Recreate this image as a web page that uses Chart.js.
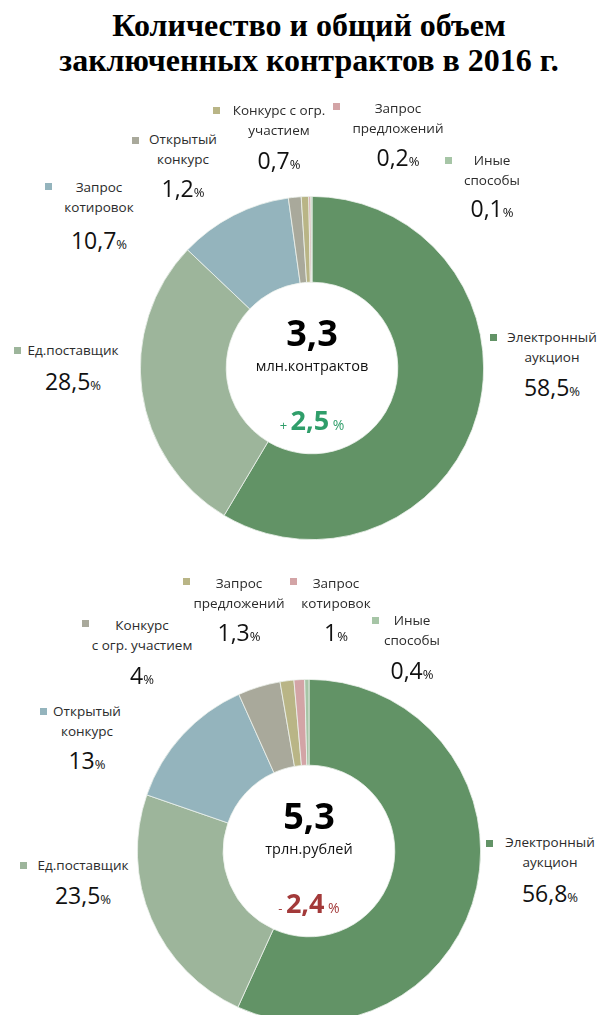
<!DOCTYPE html>
<html>
<head>
<meta charset="utf-8">
<script src="https://cdn.jsdelivr.net/npm/chart.js@4.4.1/dist/chart.umd.min.js"></script>
<style>
  html, body { margin:0; padding:0; background:#fff; }
  body { width:599px; height:1015px; overflow:hidden; position:relative; font-family:"Open Sans", sans-serif; color:#262626; }
  #title { position:absolute; left:0; top:8px; width:618px; text-align:center; font:bold 32px/35px "Liberation Serif", serif; color:#000; }
  .box { position:absolute; width:344px; height:344px; }
  .t { position:absolute; white-space:nowrap; transform:translate(-50%,-50%); line-height:1; }
  .sq { position:absolute; width:7px; height:7px; }
  .lbl { font-size:13.5px; color:#2b2b2b; }
  .num { font-size:23px; color:#111; }
  .num small { font-size:13px; }
</style>
</head>
<body>
<div id="title">Количество и общий объем<br>заключенных контрактов в 2016 г.</div>
<div class="box" id="b1" style="left:140px;top:196px"><canvas id="c1"></canvas></div>
<div class="box" id="b2" style="left:137px;top:679px"><canvas id="c2"></canvas></div>
<script>
// ---- data ----
const cats1   = ['Электронный\nаукцион', 'Ед.поставщик', 'Запрос\nкотировок', 'Открытый\nконкурс', 'Конкурс с огр.\nучастием', 'Запрос\nпредложений', 'Иные\nспособы'];
const vals1   = [58.5, 28.5, 10.7, 1.2, 0.7, 0.2, 0.1];
const total1  = '3,3';
const unit1   = 'млн.контрактов';
const delta1  = ['+', '2,5'];

const cats2   = ['Электронный\nаукцион', 'Ед.поставщик', 'Открытый\nконкурс', 'Конкурс\nс огр. участием', 'Запрос\nпредложений', 'Запрос\nкотировок', 'Иные\nспособы'];
const vals2   = [56.8, 23.5, 13, 4, 1.3, 1, 0.4];
const total2  = '5,3';
const unit2   = 'трлн.рублей';
const delta2  = ['-', '2,4'];

// ---- styles ----
const colors1 = ['#629366', '#9db59b', '#94b4bd', '#a9a99b', '#b9b586', '#d3a4a6', '#a6c5a6'];
const colors2 = ['#629366', '#9db59b', '#94b4bd', '#a9a99b', '#b9b586', '#d3a4a6', '#a6c5a6'];

// label layout: [square x, y, text center x, first line center y, value center y]
const pos1 = [
  [490,334, 552,338, 387],
  [14,347,  73,351, 381],
  [45,183,  99,188, 240],
  [132,137, 183,140, 188],
  [213,107, 279,111, 160],
  [333,103, 398,109, 157],
  [445,157, 492,161, 208]
];
const pos2 = [
  [486,840, 550,843, 893],
  [20,862,  83,866, 895],
  [40,708,  87,712, 760],
  [82,620,  142,626, 675],
  [183,578, 239,584, 632],
  [290,578, 336,584, 632],
  [372,617, 412,621, 670]
];

const fmt = v => String(v).replace('.', ',');

function addText(html, x, y, cls, style) {
  const d = document.createElement('div');
  d.className = 't ' + (cls || '');
  d.innerHTML = html;
  d.style.left = x + 'px';
  d.style.top = y + 'px';
  if (style) d.style.cssText += style;
  document.body.appendChild(d);
}

function drawDonut(id, cats, vals, colors, pos, cx, cy, total, unit, delta, dColor) {
  new Chart(document.getElementById(id), {
    type: 'doughnut',
    data: {
      labels: cats,
      datasets: [{ data: vals, backgroundColor: colors, borderColor: '#eef2ee', borderWidth: 0.8 }]
    },
    options: {
      responsive: true, maintainAspectRatio: false, animation: false,
      cutout: '50%',
      layout: { padding: 0 },
      plugins: { legend: { display: false }, tooltip: { enabled: false } }
    }
  });

  // ---- labels ----
  cats.forEach((c, i) => {
    const p = pos[i];
    const sq = document.createElement('div');
    sq.className = 'sq';
    sq.style.left = p[0] + 'px'; sq.style.top = p[1] + 'px';
    sq.style.background = colors[i];
    document.body.appendChild(sq);
    c.split('\n').forEach((ln, k) => addText(ln, p[2], p[3] + k * 19.5, 'lbl'));
    addText(fmt(vals[i]) + '<small>%</small>', p[2], p[4], 'num');
  });

  // ---- centre ----
  addText(total, cx, cy - 36, '', 'font:bold 36px "Open Sans",sans-serif;color:#000');
  addText(unit, cx, cy - 2, '', 'font-size:14.5px;color:#111');
  addText('<span style="font-size:13px">' + delta[0] + ' </span><b style="font-size:27px">' + delta[1] +
          '</b><span style="font-size:14px"> %</span>', cx, cy + 51, '', 'color:' + dColor);
}

drawDonut('c1', cats1, vals1, colors1, pos1, 312, 368, total1, unit1, delta1, '#2f9e6a');
drawDonut('c2', cats2, vals2, colors2, pos2, 309, 851, total2, unit2, delta2, '#a33a3a');
</script>
</body>
</html>
